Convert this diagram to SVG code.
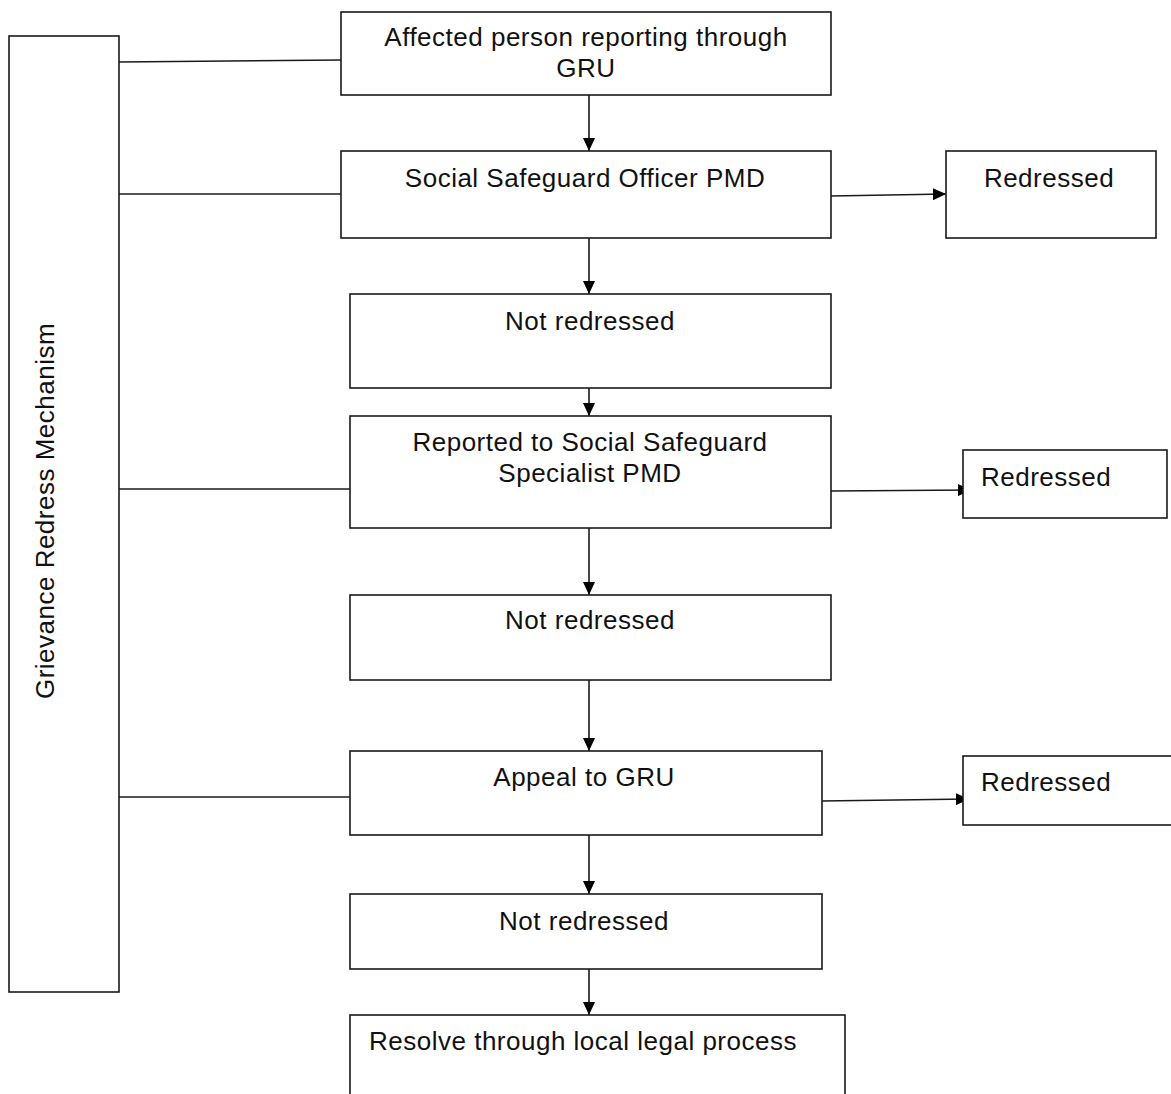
<svg xmlns="http://www.w3.org/2000/svg" width="1171" height="1094" viewBox="0 0 1171 1094">
<style>
.box{fill:#fff;stroke:#1a1a1a;stroke-width:1.6}
.t{font-family:"Liberation Sans",Arial,sans-serif;font-size:26px;fill:#111;letter-spacing:0.5px}
.c{text-anchor:middle}
.ln{stroke:#1a1a1a;stroke-width:1.6;fill:none}
</style>
<defs>
<marker id="ah" viewBox="0 0 13 12" refX="13" refY="6" markerWidth="13" markerHeight="12" markerUnits="userSpaceOnUse" orient="auto">
<path d="M0,0 L13,6 L0,12 Z" fill="#000"/>
</marker>
</defs>
<rect width="1171" height="1094" fill="#fff"/>
<g id="connectors">
<line class="ln" x1="119" y1="62" x2="341" y2="60"/>
<line class="ln" x1="119" y1="194" x2="341" y2="194"/>
<line class="ln" x1="119" y1="489" x2="350" y2="489"/>
<line class="ln" x1="119" y1="797" x2="350" y2="797"/>
<line class="ln" x1="589" y1="95" x2="589" y2="151" marker-end="url(#ah)"/>
<line class="ln" x1="589" y1="238" x2="589" y2="294" marker-end="url(#ah)"/>
<line class="ln" x1="589" y1="388" x2="589" y2="416" marker-end="url(#ah)"/>
<line class="ln" x1="589" y1="528" x2="589" y2="595" marker-end="url(#ah)"/>
<line class="ln" x1="589" y1="680" x2="589" y2="751" marker-end="url(#ah)"/>
<line class="ln" x1="589" y1="835" x2="589" y2="894" marker-end="url(#ah)"/>
<line class="ln" x1="589" y1="969" x2="589" y2="1015" marker-end="url(#ah)"/>
<line class="ln" x1="831" y1="196" x2="946" y2="194" marker-end="url(#ah)"/>
<line class="ln" x1="831" y1="491" x2="971" y2="490" marker-end="url(#ah)"/>
<line class="ln" x1="822" y1="801" x2="969" y2="799" marker-end="url(#ah)"/>
</g>
<g id="grm">
<rect class="box" x="9" y="36" width="110" height="956"/>
<text class="t c" transform="translate(54,511) rotate(-90)" letter-spacing="1.2">Grievance Redress Mechanism</text>
</g>
<g id="n1">
<rect class="box" x="341" y="12" width="490" height="83"/>
<text class="t c" x="586" y="46">Affected person reporting through</text>
<text class="t c" x="586" y="77">GRU</text>
</g>
<g id="n2">
<rect class="box" x="341" y="151" width="490" height="87"/>
<text class="t c" x="585" y="187">Social Safeguard Officer PMD</text>
</g>
<g id="r1">
<rect class="box" x="946" y="151" width="210" height="87"/>
<text class="t c" x="1049" y="187">Redressed</text>
</g>
<g id="n3">
<rect class="box" x="350" y="294" width="481" height="94"/>
<text class="t c" x="590" y="330">Not redressed</text>
</g>
<g id="n4">
<rect class="box" x="350" y="416" width="481" height="112"/>
<text class="t c" x="590" y="451">Reported to Social Safeguard</text>
<text class="t c" x="590" y="482">Specialist PMD</text>
</g>
<g id="r2">
<rect class="box" x="963" y="450" width="204" height="68"/>
<text class="t" x="981" y="486">Redressed</text>
</g>
<g id="n5">
<rect class="box" x="350" y="595" width="481" height="85"/>
<text class="t c" x="590" y="629">Not redressed</text>
</g>
<g id="n6">
<rect class="box" x="350" y="751" width="472" height="84"/>
<text class="t c" x="584" y="786">Appeal to GRU</text>
</g>
<g id="r3">
<rect class="box" x="963" y="756" width="220" height="69"/>
<text class="t" x="981" y="791">Redressed</text>
</g>
<g id="n7">
<rect class="box" x="350" y="894" width="472" height="75"/>
<text class="t c" x="584" y="930">Not redressed</text>
</g>
<g id="n8">
<rect class="box" x="350" y="1015" width="495" height="100"/>
<text class="t" x="369" y="1050">Resolve through local legal process</text>
</g>
</svg>
